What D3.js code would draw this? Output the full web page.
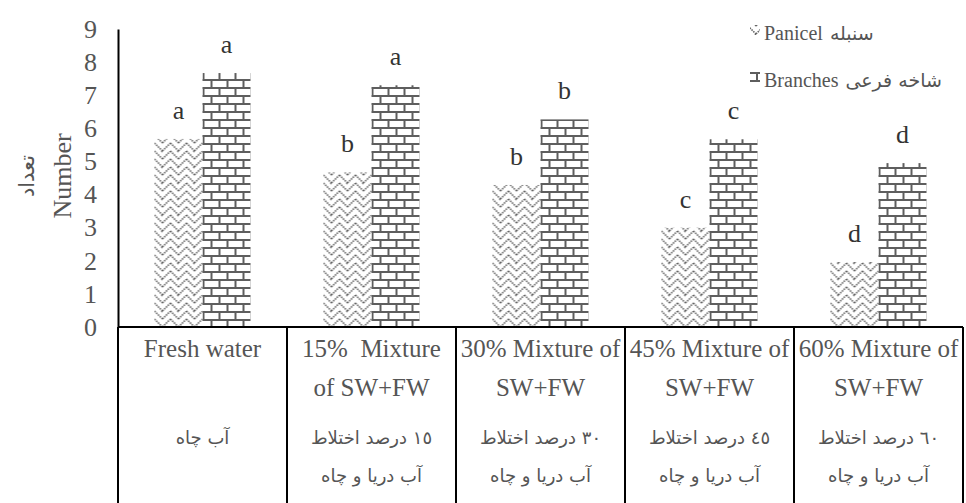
<!DOCTYPE html>
<html>
<head>
<meta charset="utf-8">
<script src="https://cdn.jsdelivr.net/npm/d3@7"></script>
<style>
  html, body { margin: 0; padding: 0; background: #fff; }
  svg { display: block; }
</style>
</head>
<body>
<div id="container"></div>
<script>
const categories = ['fresh', 'mix15', 'mix30', 'mix45', 'mix60'];
const enLine1 = ['Fresh water', '15%  Mixture', '30% Mixture of', '45% Mixture of', '60% Mixture of'];
const enLine2 = ['', 'of SW+FW', 'SW+FW', 'SW+FW', 'SW+FW'];
const faLine1 = ['آب چاه', '١٥ درصد اختلاط', '٣٠ درصد اختلاط', '٤٥ درصد اختلاط', '٦٠ درصد اختلاط'];
const faLine2 = ['', 'آب دریا و چاه', 'آب دریا و چاه', 'آب دریا و چاه', 'آب دریا و چاه'];

const series = ['Panicel', 'Branches'];
const seriesFa = ['سنبله', 'شاخه فرعی'];
const panicel = [5.68, 4.67, 4.29, 3.0, 1.96];
const branches = [7.67, 7.3, 6.27, 5.67, 4.95];
const panicelLetters = ['a', 'b', 'b', 'c', 'd'];
const branchesLetters = ['a', 'a', 'b', 'c', 'd'];
const yTicks = [0, 1, 2, 3, 4, 5, 6, 7, 8, 9];

const W = 966, H = 503;
const serif = '"Liberation Serif", "Times New Roman", serif';
const arabic = '"DejaVu Sans", sans-serif';
const textColor = '#555';

const x0 = d3.scaleBand().domain(categories).range([118, 963]);
const x1 = d3.scaleBand().domain(series).range([0, x0.bandwidth()])
    .paddingInner(0).paddingOuter(0.76);
const y = d3.scaleLinear().domain([0, 9]).range([327, 29]);

const svg = d3.select('#container').append('svg')
    .attr('width', W).attr('height', H);

const bars = [];
categories.forEach((c, i) => {
    bars.push({ cat: c, s: 'Panicel', v: panicel[i], letter: panicelLetters[i], id: 'p' + i });
    bars.push({ cat: c, s: 'Branches', v: branches[i], letter: branchesLetters[i], id: 'b' + i });
});

const defs = svg.append('defs');

// pattern builders
function brick(p) {
    p.attr('width', 16).attr('height', 16);
    p.append('rect').attr('width', 16).attr('height', 16).attr('fill', '#fff');
    p.append('path')
        .attr('d', 'M0,1H16M0,9H16M1,1V9M9,9V17')
        .attr('stroke', '#5e5e5e').attr('stroke-width', 2).attr('fill', 'none');
}
function zigzag(p) {
    p.attr('width', 16).attr('height', 16);
    p.append('rect').attr('width', 16).attr('height', 16).attr('fill', '#fff');
    p.append('path')
        .attr('d', 'M0,0L8,8M0,8L8,16M-1,15L1,17M8,8L16,0M8,16L16,8M7,1L9,-1')
        .attr('stroke', '#666').attr('stroke-width', 1.6)
        .attr('stroke-dasharray', '1.5 1').attr('fill', 'none');
}

bars.forEach(d => {
    const p = defs.append('pattern')
        .attr('id', 'pat-' + d.id)
        .attr('patternUnits', 'userSpaceOnUse')
        .attr('x', x0(d.cat) + x1(d.s))
        .attr('y', y(0));
    if (d.s === 'Branches') brick(p); else zigzag(p);
});

// bars
svg.append('g').selectAll('rect')
    .data(bars)
    .join('rect')
    .attr('x', d => x0(d.cat) + x1(d.s))
    .attr('y', d => y(d.v))
    .attr('width', x1.bandwidth())
    .attr('height', d => y(0) - y(d.v))
    .attr('fill', d => 'url(#pat-' + d.id + ')');

// significance letters
svg.append('g').selectAll('text')
    .data(bars)
    .join('text')
    .attr('x', d => x0(d.cat) + x1(d.s) + x1.bandwidth() / 2)
    .attr('y', d => y(d.v) - 20)
    .attr('text-anchor', 'middle')
    .attr('font-family', serif).attr('font-size', 26)
    .attr('fill', '#333')
    .text(d => d.letter);

// y axis
const yAxis = svg.append('g')
    .attr('transform', 'translate(118,0)')
    .call(d3.axisLeft(y).tickValues(yTicks).tickSize(0).tickPadding(21).tickFormat(d3.format('d')));
yAxis.select('.domain').attr('stroke', '#000').attr('stroke-width', 2);
yAxis.selectAll('text')
    .attr('font-family', serif).attr('font-size', 26).attr('fill', textColor);

svg.append('text')
    .attr('transform', 'translate(71,176) rotate(-90)')
    .attr('text-anchor', 'middle')
    .attr('font-family', serif).attr('font-size', 26).attr('fill', textColor)
    .text('Number');
svg.append('text')
    .attr('transform', 'translate(34,176) rotate(-90)')
    .attr('text-anchor', 'middle')
    .attr('direction', 'rtl')
    .attr('font-family', arabic).attr('font-size', 21).attr('fill', textColor)
    .text('تعداد');

// table under the axis
const table = svg.append('g');
table.append('line')
    .attr('x1', x0.range()[0]).attr('x2', x0.range()[1])
    .attr('y1', y(0)).attr('y2', y(0))
    .attr('stroke', '#000').attr('stroke-width', 2);
const edges = categories.map(c => x0(c)).concat([x0.range()[1]]);
table.selectAll('line.cell')
    .data(edges)
    .join('line')
    .attr('class', 'cell')
    .attr('x1', d => d).attr('x2', d => d)
    .attr('y1', y(0)).attr('y2', H)
    .attr('stroke', '#000').attr('stroke-width', 2);

const rows = [
    { lines: enLine1, y: 357, font: serif, size: 25, dir: 'ltr' },
    { lines: enLine2, y: 396, font: serif, size: 25, dir: 'ltr' },
    { lines: faLine1, y: 444, font: arabic, size: 18, dir: 'rtl' },
    { lines: faLine2, y: 482, font: arabic, size: 18, dir: 'rtl' },
];
rows.forEach(r => {
    table.append('g').selectAll('text')
        .data(categories)
        .join('text')
        .attr('x', d => x0(d) + x0.bandwidth() / 2)
        .attr('y', r.y)
        .attr('text-anchor', 'middle')
        .attr('direction', r.dir)
        .attr('font-family', r.font).attr('font-size', r.size)
        .attr('fill', textColor)
        .style('white-space', 'pre')
        .text((d, i) => r.lines[i]);
});

// legend
const legend = svg.append('g').attr('transform', 'translate(750,0)');
const legendRows = series.map((s, i) => ({ s, fa: seriesFa[i], y: 40 + i * 47 }));
legendRows.forEach((r, i) => {
    const g = legend.append('g').attr('transform', `translate(0,${r.y})`);
    const p = defs.append('pattern')
        .attr('id', 'leg-' + i)
        .attr('patternUnits', 'userSpaceOnUse')
        .attr('x', 750).attr('y', r.y - 14);
    if (r.s === 'Branches') brick(p); else zigzag(p);
    g.append('rect')
        .attr('x', 0).attr('y', -15)
        .attr('width', 10).attr('height', 10)
        .attr('fill', 'url(#leg-' + i + ')');
    const t = g.append('text')
        .attr('x', 14).attr('y', 0)
        .attr('font-family', serif).attr('font-size', 20)
        .attr('fill', textColor)
        .text(r.s);
    const w = t.node().getComputedTextLength();
    const fa = g.append('text')
        .attr('y', 0)
        .attr('text-anchor', 'middle')
        .attr('direction', 'rtl')
        .attr('font-family', arabic).attr('font-size', 19)
        .attr('fill', textColor)
        .text(r.fa);
    const fw = fa.node().getComputedTextLength();
    fa.attr('x', 14 + w + 7 + fw / 2);
});
</script>
</body>
</html>
